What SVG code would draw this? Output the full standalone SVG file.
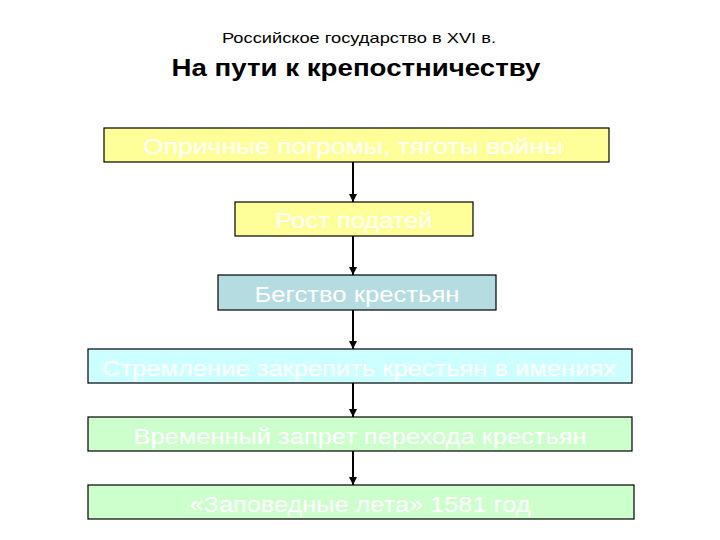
<svg xmlns="http://www.w3.org/2000/svg" width="720" height="540" viewBox="0 0 720 540">
<defs>
<marker id="ah" markerWidth="8" markerHeight="8" refX="8" refY="4" orient="auto" markerUnits="userSpaceOnUse" viewBox="0 0 8 8">
<path d="M0,0 L8,4 L0,8 Z" fill="#000"/>
</marker>
<style>
.box{stroke:#000;stroke-width:1.2}
.yel{fill:#FFFF99}
.blu{fill:#B5DCE0}
.cyn{fill:#CCFFFF}
.grn{fill:#CCFFCC}
.lbl{font-family:"Liberation Sans",Arial,sans-serif;font-size:22px;fill:#fff;text-anchor:middle}
.conn{stroke:#000;stroke-width:2;fill:none}
</style>
</defs>
<rect width="720" height="540" fill="#fff"/>
<text x="359" y="43" font-family="'Liberation Sans',Arial,sans-serif" font-size="15" text-anchor="middle" fill="#000" textLength="274" lengthAdjust="spacingAndGlyphs">Российское государство в XVI в.</text>
<text x="356" y="76" font-family="'Liberation Sans',Arial,sans-serif" font-size="24" font-weight="bold" text-anchor="middle" fill="#000" textLength="369" lengthAdjust="spacingAndGlyphs">На пути к крепостничеству</text>
<g id="connectors">
<line class="conn" x1="353" y1="162" x2="353" y2="202" marker-end="url(#ah)"/>
<line class="conn" x1="353" y1="236" x2="353" y2="275" marker-end="url(#ah)"/>
<line class="conn" x1="353" y1="310" x2="353" y2="349" marker-end="url(#ah)"/>
<line class="conn" x1="353" y1="383" x2="353" y2="417" marker-end="url(#ah)"/>
<line class="conn" x1="353" y1="451" x2="353" y2="485" marker-end="url(#ah)"/>
</g>
<g id="n1"><rect class="box yel" x="104" y="128" width="505" height="34"/><text class="lbl" x="353" y="154" textLength="420" lengthAdjust="spacingAndGlyphs">Опричные погромы, тяготы войны</text></g>
<g id="n2"><rect class="box yel" x="235" y="202" width="238" height="34"/><text class="lbl" x="354" y="228" textLength="157" lengthAdjust="spacingAndGlyphs">Рост податей</text></g>
<g id="n3"><rect class="box blu" x="218" y="275" width="278" height="35"/><text class="lbl" x="357" y="302" textLength="205" lengthAdjust="spacingAndGlyphs">Бегство крестьян</text></g>
<g id="n4"><rect class="box cyn" x="88" y="349" width="544" height="34"/><text class="lbl" x="359" y="376" textLength="514" lengthAdjust="spacingAndGlyphs">Стремление закрепить крестьян в имениях</text></g>
<g id="n5"><rect class="box grn" x="88" y="417" width="544" height="34"/><text class="lbl" x="360" y="444" textLength="453" lengthAdjust="spacingAndGlyphs">Временный запрет перехода крестьян</text></g>
<g id="n6"><rect class="box grn" x="88" y="485" width="546" height="34"/><text class="lbl" x="360" y="512" textLength="341" lengthAdjust="spacingAndGlyphs">«Заповедные лета» 1581 год</text></g>
</svg>
